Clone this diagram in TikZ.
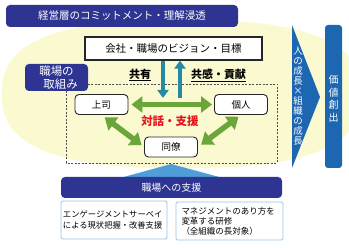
\documentclass[tikz,border=0pt]{standalone}
\usepackage{fontspec}
\setmainfont{Noto Sans CJK JP}
\usepackage{xcolor}
\usepackage{tikz}
\usetikzlibrary{
  arrows.meta,
  positioning,
  calc
}
\definecolor{bannerblue}{RGB}{45,52,145}
\definecolor{tealline}{RGB}{38,138,165}
\definecolor{leaf}{RGB}{106,166,58}
\definecolor{chevblue}{RGB}{28,102,178}
\definecolor{skyline}{RGB}{150,196,232}
\definecolor{paleyellow}{RGB}{251,249,208}
\definecolor{wedgeblue}{RGB}{80,158,216}
\definecolor{alertred}{RGB}{230,20,30}
\lineskiplimit=-20pt

\begin{document}
\begin{tikzpicture}[
      x=1pt, y=-1pt,
      banner/.style={fill=bannerblue, rounded corners=4pt, text=white,
                     font=\fontsize{10.5}{12}\selectfont, inner sep=0pt},
      member/.style={draw=black!85, line width=0.9pt, fill=white, rounded corners=4pt,
                     minimum width=53pt, minimum height=20pt, inner sep=0pt,
                     font=\fontsize{9.5}{11}\selectfont},
      keyword/.style={font=\bfseries\fontsize{11}{13}\selectfont, inner sep=1pt},
      vchar/.style={text=white, inner sep=0pt, font=\fontsize{9.5}{10}\selectfont},
      tealarrow/.style={draw=tealline, line width=4.5pt, -{Triangle[width=11pt,length=8pt]}},
      greenarrow/.style={draw=leaf, line width=5.5pt,
                     {Triangle[width=16pt,length=11pt]}-{Triangle[width=16pt,length=11pt]}},
      supportbox/.style={draw=skyline, line width=0.8pt, fill=white, rounded corners=1.5pt,
                     minimum height=38pt, inner sep=2pt, align=left,
                     font=\fontsize{8.3}{10.5}\selectfont}
  ]
      \useasboundingbox (0,0) rectangle (349,248);
      \clip (0,0) rectangle (349,248);

      % Fundo amarelo
      \fill[paleyellow] plot[domain=1:361, samples=181, variable=\t]
          ({182+180*sign(cos(\t))*abs(cos(\t))^0.77}, {94+74*sign(sin(\t))*abs(sin(\t))^0.77}) -- cycle;

      % Faixa superior
      \node[banner, minimum width=232pt, minimum height=22pt] (mgmt) at (122,16)
          {経営層のコミットメント・理解浸透};

      % Visão
      \node[draw=black!85, line width=1.1pt, fill=white, minimum width=177pt,
            minimum height=23pt, inner sep=0pt, font=\fontsize{10.5}{12}\selectfont]
          (vision) at (173.5,48.5) {会社・職場のビジョン・目標};

      % Área tracejada
      \draw[black!70, line width=0.8pt, dash pattern=on 2pt off 1.5pt]
          (66,84) rectangle (277,163);
      \node[banner, minimum width=63pt, minimum height=27pt, align=center,
            font=\fontsize{11.5}{13}\selectfont] (effort) at (56.5,77.5)
          {職場の\\\hspace*{0.7em}取組み};

      % Pessoas
      \node[member] (boss)  at (101.5,104.5) {上司};
      \node[member] (indiv) at (241,104.5)   {個人};
      \node[member] (peer)  at (171,147)     {同僚};

      % Setas verticais
      \coordinate (shareTip) at (163,98);
      \coordinate (empathyBase) at (180,98);
      \draw[tealarrow] (vision.south -| shareTip) -- (shareTip);
      \draw[tealarrow] (empathyBase) -- (vision.south -| empathyBase);
      \node[keyword] (share)   at (140,75)   {\underline{共有}};
      \node[keyword] (empathy) at (218.5,75) {\underline{共感・貢献}};

      % Setas de diálogo
      \draw[greenarrow, shorten <=3pt, shorten >=2pt] (boss.east) -- (indiv.west);
      \draw[greenarrow, shorten <=4pt, shorten >=3pt] (boss.south) -- (peer.west);
      \draw[greenarrow, shorten <=4pt, shorten >=3pt] (peer.east) -- (indiv.south);
      \node[keyword, text=alertred, font=\bfseries\fontsize{11.5}{13}\selectfont]
          (dialog) at (170,121) {対話・支援};

      % Crescimento e valor
      \fill[chevblue] (292,25) -- (320,97) -- (292,168) -- cycle;
      \foreach \ch [count=\i] in {人,の,成,長,×,組,織,の,成,長}
          \node[vchar] (growth\i) at (298,41+10*\i) {\ch};
      \node[fill=chevblue, rounded corners=3pt, minimum width=17pt, minimum height=143pt,
            inner sep=0pt] (value) at (333.5,96.5) {};
      \foreach \ch [count=\i] in {価,値,創,出}
          \node[vchar, font=\fontsize{10}{12}\selectfont] (value\i) at (333.5,67.5+12.5*\i) {\ch};

      % Apoio ao local de trabalho
      \fill[wedgeblue] (120,178) -- (171,164) -- (223,178) -- cycle;
      \node[banner, minimum width=221pt, minimum height=21pt, font=\fontsize{10}{12}\selectfont]
          (support) at (171.5,187.5) {職場への支援};
      \node[supportbox, minimum width=106pt, text width=102pt] (survey) at (114,220)
          {エンゲージメントサーベイ\\による現状把握・改善支援};
      \node[supportbox, minimum width=107pt, text width=96pt,
            font=\fontsize{8.5}{10}\selectfont] (training) at (229.5,221)
          {マネジメントのあり方を\\変革する研修\\（全組織の長対象）};
  \end{tikzpicture}
\end{document}
